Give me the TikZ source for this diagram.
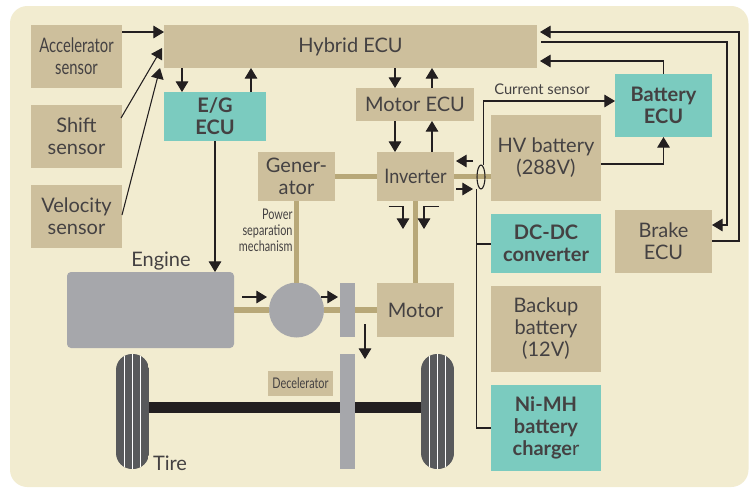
\documentclass[tikz,border=0pt]{standalone}
\usepackage{fontspec}
\setmainfont{Lato}
\usepackage{graphicx}
\usetikzlibrary{calc}
\usetikzlibrary{arrows.meta}
\usetikzlibrary{shapes.geometric}
\definecolor{panelcol}{HTML}{F2ECD0}
\definecolor{tancol}{HTML}{CDBF9C}
\definecolor{tealcol}{HTML}{7BCBBF}
\definecolor{greycol}{HTML}{A6A7AB}
\definecolor{tirecol}{HTML}{58595B}
\definecolor{shaftcol}{HTML}{B8A878}
\definecolor{inkcol}{HTML}{231F20}
\newcommand{\cond}[1]{\scalebox{.74}[1]{#1}}
\newcommand{\bld}[1]{\textbf{#1}}
\tikzset{unit/.style={rectangle, inner sep=0pt, outer sep=0pt, align=center, text=inkcol!85,
    font=\fontsize{15}{16.5}\selectfont}}
\tikzset{solid part/.style={fill=greycol, inner sep=0pt, outer sep=0pt}}
\tikzset{sig/.style={draw=inkcol, line width=.8pt, -{Triangle[length=8pt,width=9.5pt]}}}
\tikzset{shaft/.style={draw=shaftcol, line width=4pt}}
\tikzset{wire/.style={draw=inkcol, line width=.8pt}}
\begin{document}
\begin{tikzpicture}[x=.75pt,y=-.75pt]
  \useasboundingbox (0,0) rectangle (754,487);
  \fill[white] (0,0) rectangle (754,487);
  \fill[panelcol, rounded corners=13pt] (10,6) rectangle (748.5,487);
  % tires and axle
  \foreach \x/\lab in {116/tireL, 421/tireR} {
    \begin{scope}
      \clip[rounded corners=12pt] (\x,354) rectangle ++(33,115);
      \fill[tirecol] (\x,354) rectangle ++(33,115);
      \foreach \s in {8.5,16.5,24.5} {
        \fill[white] (\x+\s-.8,354) rectangle (\x+\s+.8,469);
      }
    \end{scope}
    \coordinate (\lab) at (\x+16.5,407.5);
  }
  \fill[inkcol] (149,402) rectangle (421,413);
  \foreach \x/\y/\w/\h/\lab/\txt/\col in {
    31/25/91/63/acc/{\cond{Accelerator}\\\cond{sensor}}/tancol,
    31/105/91/63/shift/{Shift\\sensor}/tancol,
    31/185/91/63/vel/{Velocity\\sensor}/tancol,
    164/25/373/43/hyb/{Hybrid ECU}/tancol,
    164/92/102/49/eg/{\bld{E/G}\\\bld{ECU}}/tealcol,
    356/88/118/33/mot/{Motor ECU}/tancol,
    258/152/77/49/gen/{Gener-\\ator}/tancol,
    377/152/77/49/inv/{\scalebox{.9}[1]{Inverter}}/tancol,
    491/115/110/86/hv/{HV battery\\(288V)}/tancol,
    615/74/97/63/bat/{\bld{Battery}\\\bld{ECU}}/tealcol,
    491/214/110/59/dc/{\bld{DC-DC}\\\bld{converter}}/tealcol,
    615/210/97/63/brk/{Brake\\ECU}/tancol,
    491/286/110/86/bak/{Backup\\battery\\(12V)}/tancol,
    491/385/110/86/nimh/{\bld{Ni-MH}\\\bld{battery}\\\bld{charge}r}/tealcol,
    377/283/77/54/motor/{Motor}/tancol,
    268/371/65/25/dec/{\fontsize{11}{12}\selectfont\cond{Decelerator}}/tancol%
  } {
    \node[unit, fill=\col, minimum width=\w*.75pt, minimum height=\h*.75pt] (\lab) at (\x+\w/2,\y+\h/2) {\txt};
  }
  \node[solid part, rounded corners=3pt, minimum width=125.25pt, minimum height=57pt] (engine) at (150.5,310) {};
  \node[solid part, circle, minimum size=41.25pt] (psm) at (296.5,310) {};
  \node[solid part, minimum width=11.25pt, minimum height=40.5pt] (clutch) at (347.5,310) {};
  \node[solid part, minimum width=11.25pt, minimum height=86.25pt] (gear) at (347.5,411.5) {};
  % shafts
  \draw[shaft] (gen.east) -- (inv.west);
  \draw[shaft] (inv.east) -- (hv.west |- inv.east);
  \draw[shaft] (gen.south) -- (psm.north);
  \draw[shaft] (inv.south) -- (motor.north);
  \draw[shaft] (engine.east) -- (psm.west);
  \draw[shaft] (psm.east) -- (clutch.west);
  \draw[shaft] (clutch.east) -- (motor.west);
  \node[unit] (englab) at (161,261) {Engine};
  \node[unit] (tirelab) at (170,463) {Tire};
  \node[unit, font=\fontsize{11}{12}\selectfont] (curlab) at (542,89) {Current sensor};
  \node[unit, align=right, anchor=north east, font=\fontsize{11}{12}\selectfont] (psmlab) at (292.5,209) {\cond{Power}\\\cond{separation}\\\cond{mechanism}};
  % sensors into hybrid ECU
  \coordinate (shiftin) at (162,48);
  \coordinate (velin) at (160,68);
  \draw[sig] ($(acc.north east)+(0,7)$) -- ($(hyb.north west)+(0,7)$);
  \draw[sig] ($(shift.north east)+(-1,13)$) -- (shiftin);
  \draw[sig] ($(vel.north east)+(0,30)$) -- (velin);
  % ECU buses
  \foreach \a/\px/\b in {
    hyb.south/182/eg.north,
    eg.north/251/hyb.south,
    hyb.south/395/mot.north,
    mot.north/432/hyb.south,
    mot.south/395/inv.north,
    inv.north/432/mot.south,
    eg.south/215/engine.north%
  } {
    \draw[sig] (\px,0 |- \a) -- (\px,0 |- \b);
  }
  \draw[sig] ($(brk.north east)+(0,31)$) -| (739,32) -- ($(hyb.north east)+(3,7)$);
  \draw[sig] ($(hyb.north east)+(4,17)$) -| (727,225) -- ($(brk.north east)+(0,15)$);
  \draw[sig] (bat.north) |- ($(hyb.south east)+(3,-7)$);
  \draw[sig] ($(hv.north east)+(0,49)$) -| (bat.south);
  % current sensor and 12V line
  \node[draw=inkcol, line width=.8pt, ellipse, inner sep=0pt, outer sep=0pt, minimum width=6pt, minimum height=18pt] (cs) at (481,177) {};
  \draw[sig] (483.5,0 |- cs.north) |- (bat.west |- 0,101);
  \coordinate (busdc) at (476.5,244);
  \draw[wire] (476.5,0 |- cs.south) -- (476.5,428) -- (nimh.west |- 0,428);
  \draw[wire] (busdc) -- (dc.west |- busdc);
  % small arrows along the drive line
  \foreach \u/\v/\p/\q/\r/\s in {
    473/161/456/161/a/b,
    456/189/473/189/c/d,
    242/297/267/297/e/f,
    321/297/338/297/g/h,
    365/324/365/359/i/j%
  } {
    \coordinate (\r) at (\u,\v);
    \coordinate (\s) at (\p,\q);
    \draw[sig] (\r) -- (\s);
  }
  % hooks below the inverter
  \coordinate (hookL) at (388.5,206.5);
  \coordinate (hookR) at (439,206.5);
  \draw[sig] (hookL) -| (403,229);
  \draw[sig] (hookR) -| (424,229);
\end{tikzpicture}
\end{document}
